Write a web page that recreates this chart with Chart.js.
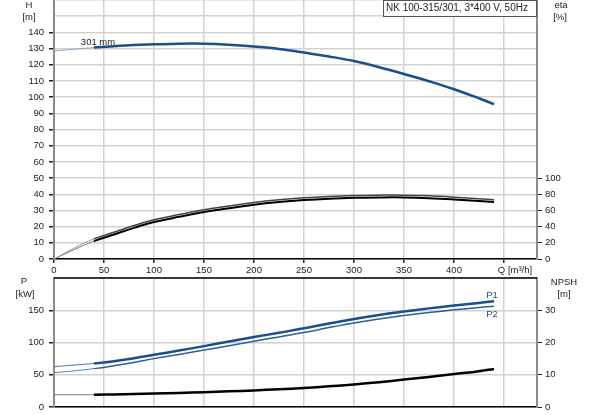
<!DOCTYPE html>
<html>
<head>
<meta charset="utf-8">
<script src="https://cdn.jsdelivr.net/npm/chart.js@4.4.0/dist/chart.umd.min.js"></script>
<style>
    body { margin: 0; background: #fff; }
    #topChart { position: absolute; left: 0; top: 0; }
    #bottomChart { position: absolute; left: 0; top: 275px; }
</style>
</head>
<body>
<canvas id="topChart" width="593" height="276"></canvas>
<canvas id="bottomChart" width="593" height="140"></canvas>
<script>
// flow points shared by every curve, m3/h
const flowQ = [0, 20, 40, 60, 80, 100, 125, 150, 175, 200, 225, 250, 275, 300, 325, 350, 375, 400, 425, 440];

const headH = [128.5, 129.6, 130.6, 131.5, 132.2, 132.6, 133.0, 133.0, 132.4, 131.3, 129.8, 127.5, 125.1, 122.3, 118.5, 114.3, 109.8, 104.9, 99.3, 95.6];
const etaUpper = [0, 13.5, 24.9, 33.0, 41.3, 48.4, 54.9, 60.8, 65.4, 69.9, 73.2, 75.6, 77.3, 78.4, 78.9, 78.9, 78.0, 76.4, 74.4, 73.1];
const etaLower = [0, 11.5, 22.1, 30.2, 38.5, 45.6, 52.1, 58.0, 62.6, 67.1, 70.4, 72.8, 74.5, 75.6, 76.1, 76.1, 75.2, 73.6, 71.6, 70.3];
const powerP1 = [62.5, 65.0, 67.5, 71.0, 75.5, 81.0, 87.5, 94.4, 101.5, 108.4, 115.2, 122.0, 129.6, 136.6, 142.7, 148.0, 152.9, 157.3, 161.4, 163.9];
const powerP2 = [53.2, 56.0, 59.5, 64.0, 69.0, 75.0, 81.5, 88.3, 95.0, 102.0, 108.7, 115.5, 123.1, 130.2, 136.4, 141.8, 146.5, 150.6, 154.2, 156.3];
const npshR = [3.8, 3.8, 3.8, 3.9, 4.0, 4.15, 4.35, 4.6, 4.85, 5.15, 5.5, 5.9, 6.4, 7.0, 7.7, 8.5, 9.3, 10.2, 11.1, 11.8];

const qMax = 483;
const thinUntil = 40;   // curves are drawn thin below this flow

const FONT = '"Liberation Sans", Arial, sans-serif';
const BLUE = '#1b4f8b';
const GRID = '#d2d2d2';

function points(values) {
    return flowQ.map((q, i) => ({ x: q, y: values[i] }));
}

function curve(values, color, width, thinColor, axisId) {
    return {
        data: points(values),
        yAxisID: axisId,
        borderColor: color,
        borderWidth: width,
        pointRadius: 0,
        fill: false,
        tension: 0.4,
        segment: {
            borderWidth: c => c.p1.parsed.x <= thinUntil ? 1 : width,
            borderColor: c => c.p1.parsed.x <= thinUntil ? thinColor : color
        }
    };
}

function fixSize(size, horizontal) {
    return function (scale) {
        if (horizontal) scale.height = size; else scale.width = size;
        scale.paddingTop = 0;
        scale.paddingBottom = 0;
        scale.paddingLeft = 0;
        scale.paddingRight = 0;
    };
}

function keepTicks(limit) {
    return function (scale) {
        scale.ticks = scale.ticks.filter(t => t.value <= limit);
    };
}

const tickFont = { family: FONT, size: 9.5 };

const topText = {
    id: 'topText',
    afterDatasetsDraw(chart) {
        const { ctx, scales } = chart;
        ctx.save();
        ctx.font = '9.5px ' + FONT;
        ctx.fillStyle = '#222';
        ctx.textAlign = 'center';
        ctx.textBaseline = 'middle';
        ctx.fillText('H', 29, 5);
        ctx.fillText('[m]', 29, 17);
        ctx.fillText('eta', 561, 5);
        ctx.fillText('[%]', 560, 17);
        ctx.fillText('Q [m\u00b3/h]', 515, 270);
        ctx.fillText('301 mm', scales.x.getPixelForValue(44), scales.y.getPixelForValue(133.8));

        // product caption box
        ctx.fillStyle = '#fff';
        ctx.fillRect(383, 0, 154, 16);
        ctx.strokeStyle = '#555';
        ctx.lineWidth = 1;
        ctx.strokeRect(383.5, 0.5, 153, 16);
        ctx.fillStyle = '#222';
        ctx.textAlign = 'left';
        ctx.font = '10px ' + FONT;
        ctx.fillText('NK 100-315/301, 3*400 V, 50Hz', 386, 8.5);
        ctx.restore();
    }
};

const bottomText = {
    id: 'bottomText',
    afterDatasetsDraw(chart) {
        const { ctx, chartArea, scales } = chart;
        ctx.save();
        ctx.font = '9.5px ' + FONT;
        ctx.fillStyle = '#222';
        ctx.textAlign = 'center';
        ctx.textBaseline = 'middle';
        ctx.fillText('P', 24, 6);
        ctx.fillText('[kW]', 25, 19);
        ctx.fillText('NPSH', 564, 7);
        ctx.fillText('[m]', 564, 19);
        ctx.fillStyle = BLUE;
        ctx.fillText('P1', scales.x.getPixelForValue(438), scales.y.getPixelForValue(173));
        ctx.fillText('P2', scales.x.getPixelForValue(438), scales.y.getPixelForValue(144));

        ctx.strokeStyle = '#000';
        ctx.lineWidth = 1.5;
        ctx.beginPath();
        ctx.moveTo(chartArea.left, chartArea.top);
        ctx.lineTo(chartArea.right, chartArea.top);
        ctx.stroke();
        ctx.restore();
    }
};

const topChart = new Chart(document.getElementById('topChart'), {
    type: 'line',
    data: {
        datasets: [
            curve(etaUpper, '#444', 1.5, '#999', 'eta'),
            curve(etaLower, '#000', 2, '#777', 'eta'),
            curve(headH, BLUE, 2.5, '#8aa6c4', 'y')
        ]
    },
    options: {
        responsive: false,
        animation: false,
        events: [],
        layout: { padding: 0 },
        plugins: { legend: { display: false }, tooltip: { enabled: false } },
        scales: {
            x: {
                type: 'linear', min: 0, max: qMax,
                ticks: { stepSize: 50, font: tickFont, color: '#222', padding: 2,
                    callback: v => v <= 400 ? v : '' },
                grid: { color: GRID, lineWidth: 1.5, tickLength: 4, tickColor: '#222' },
                border: { color: '#000', width: 1.5 },
                afterBuildTicks: scale => { scale.ticks = scale.ticks.filter(t => t.value % 50 === 0); },
                afterFit: fixSize(17, true)
            },
            y: {
                position: 'left', min: 0, max: 160,
                ticks: { stepSize: 10, font: tickFont, color: '#222', padding: 5,
                    callback: v => v <= 140 ? v : '' },
                grid: { color: GRID, lineWidth: 1.5, tickLength: 5,
                    tickColor: c => c.tick && c.tick.value > 140 ? 'rgba(0,0,0,0)' : '#222' },
                border: { color: '#8c8c8c', width: 2 },
                afterFit: fixSize(54, false)
            },
            eta: {
                position: 'right', min: 0, max: 320,
                ticks: { stepSize: 20, font: tickFont, color: '#222', padding: 3 },
                grid: { drawOnChartArea: false, tickLength: 5, tickColor: '#222' },
                border: { color: '#8c8c8c', width: 2 },
                afterBuildTicks: keepTicks(100),
                afterFit: fixSize(56, false)
            }
        }
    },
    plugins: [topText]
});

const bottomChart = new Chart(document.getElementById('bottomChart'), {
    type: 'line',
    data: {
        datasets: [
            curve(npshR, '#000', 2.5, '#777', 'npsh'),
            curve(powerP2, '#2b5f98', 1.5, '#5d82ad', 'y'),
            curve(powerP1, BLUE, 2.5, '#4f77a3', 'y')
        ]
    },
    options: {
        responsive: false,
        animation: false,
        events: [],
        layout: { padding: { top: 3 } },
        plugins: { legend: { display: false }, tooltip: { enabled: false } },
        scales: {
            x: {
                type: 'linear', min: 0, max: qMax,
                ticks: { stepSize: 50, display: false },
                grid: { color: GRID, lineWidth: 1.5, drawTicks: false },
                border: { color: '#000', width: 1.5 },
                afterBuildTicks: scale => { scale.ticks = scale.ticks.filter(t => t.value % 50 === 0); },
                afterFit: fixSize(8, true)
            },
            y: {
                position: 'left', min: 0, max: 200,
                ticks: { stepSize: 50, font: tickFont, color: '#222', padding: 5,
                    callback: v => v <= 150 ? v : '' },
                grid: { color: GRID, lineWidth: 1.5, tickLength: 5,
                    tickColor: c => c.tick && c.tick.value > 150 ? 'rgba(0,0,0,0)' : '#222' },
                border: { color: '#8c8c8c', width: 2 },
                afterFit: fixSize(54, false)
            },
            npsh: {
                position: 'right', min: 0, max: 40,
                ticks: { stepSize: 10, font: tickFont, color: '#222', padding: 3 },
                grid: { drawOnChartArea: false, tickLength: 5, tickColor: '#222' },
                border: { color: '#8c8c8c', width: 2 },
                afterBuildTicks: keepTicks(30),
                afterFit: fixSize(56, false)
            }
        }
    },
    plugins: [bottomText]
});
</script>
</body>
</html>
